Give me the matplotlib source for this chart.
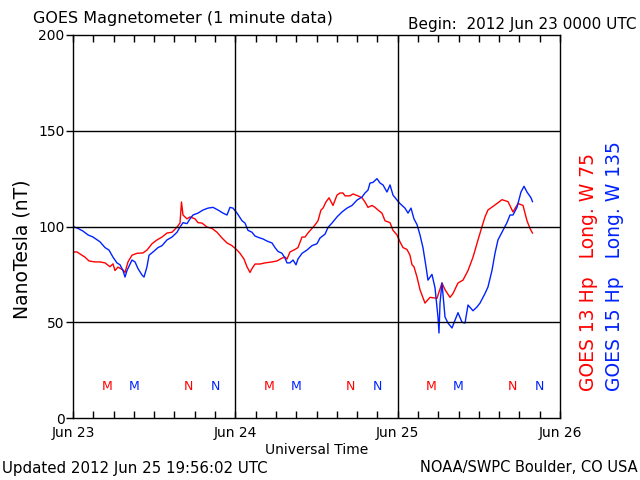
import matplotlib
matplotlib.use("Agg")
import matplotlib.pyplot as plt
from matplotlib.ticker import MultipleLocator

# Hours since 2012 Jun 23 00:00 UTC
g13_hours = [0.00, 0.59, 1.33, 1.77, 2.37, 3.25, 3.99, 4.73, 5.47, 5.91, 6.21, 6.65, 7.39, 7.69,
             8.13, 8.72, 9.46, 10.35, 10.94, 11.68, 12.42, 13.16, 13.90, 14.64, 15.38, 15.82,
             16.04, 16.26, 16.85, 17.30, 18.04, 18.48, 19.07, 19.81, 20.55, 21.29, 22.03, 22.77,
             23.51, 24.25, 24.69, 25.28, 25.72, 26.17, 26.46, 26.91, 27.65, 28.39, 29.42, 30.16,
             30.90, 31.34, 31.64, 32.08, 32.82, 33.26, 33.86, 34.30, 34.74, 35.33, 35.78, 36.22,
             36.66, 36.96, 37.40, 37.85, 38.44, 39.03, 39.47, 39.92, 40.21, 40.95, 41.40, 42.13,
             42.73, 43.17, 43.61, 44.20, 44.65, 45.09, 45.68, 46.13, 46.87, 47.31, 47.90, 48.34,
             48.79, 49.38, 49.82, 50.12, 50.41, 50.86, 51.30, 52.04, 52.78, 53.81, 54.55, 55.00,
             55.74, 56.18, 56.92, 57.66, 58.40, 59.14, 59.88, 60.47, 60.91, 61.35, 62.68, 63.42,
             64.31, 65.05, 65.79, 66.53, 67.12, 67.56, 67.93]
g13_values = [86.7, 86.7, 85.0, 84.0, 82.0, 81.5, 81.5, 81.0, 79.0, 80.5, 77.0, 78.8, 77.3, 76.0,
              81.5, 85.0, 86.0, 86.2, 87.7, 91.0, 93.0, 94.5, 96.6, 97.0, 99.7, 101.8,
              112.8, 106.0, 104.0, 105.0, 104.0, 102.0, 101.8, 99.7, 99.0, 97.0, 94.0, 91.4,
              90.0, 87.7, 86.0, 83.0, 79.0, 76.0, 78.0, 80.4, 80.4, 81.0, 81.5, 82.0,
              83.5, 84.0, 83.0, 86.7, 88.0, 89.0, 94.5, 94.5, 96.6, 99.0, 100.8, 103.0,
              108.6, 109.6, 112.8, 115.0, 111.0, 116.4, 117.5, 117.5, 116.0, 116.0, 117.0, 116.0,
              115.0, 112.8, 110.0, 111.0, 110.0, 108.6, 107.0, 103.0, 102.0, 98.0, 95.6, 92.0,
              89.0, 88.0, 85.0, 80.0, 79.0, 73.6, 67.0, 60.0, 63.0, 62.5, 70.5, 67.0,
              63.0, 65.0, 70.5, 72.0, 77.0, 84.0, 93.0, 100.0, 105.0, 108.6, 112.0, 114.0,
              113.0, 107.6, 112.0, 111.0, 103.0, 99.0, 96.6]

g15_hours = [0.00, 0.74, 1.48, 2.22, 2.96, 3.99, 4.73, 5.32, 5.91, 6.50, 6.95, 7.39, 7.69, 7.98,
             8.72, 9.17, 9.61, 10.20, 10.50, 10.94, 11.24, 11.83, 12.57, 13.16, 13.90, 14.64,
             15.38, 15.82, 16.26, 16.85, 17.30, 17.74, 18.48, 19.22, 19.96, 20.70, 21.44, 22.18,
             22.77, 23.21, 23.65, 24.25, 24.99, 25.43, 25.87, 26.46, 26.91, 27.65, 28.09, 28.68,
             29.42, 29.86, 30.31, 30.90, 31.34, 31.64, 32.08, 32.53, 32.97, 33.26, 33.86, 34.59,
             35.33, 36.07, 36.52, 37.26, 37.70, 38.29, 39.03, 39.77, 40.51, 41.25, 41.99, 42.73,
             43.17, 43.61, 43.91, 44.35, 44.94, 45.39, 45.83, 46.42, 46.87, 47.31, 47.90, 48.34,
             49.08, 49.53, 49.97, 50.41, 50.86, 51.30, 51.74, 52.19, 52.48, 53.07, 53.52, 53.96,
             54.11, 54.26, 54.55, 55.00, 55.44, 56.03, 56.47, 56.92, 57.51, 57.96, 58.40, 59.14,
             59.73, 60.17, 60.91, 61.35, 61.94, 62.39, 62.83, 63.57, 64.16, 64.61, 65.05, 65.64,
             66.23, 66.68, 67.12, 67.71, 67.93]
g15_values = [100.0, 99.0, 97.6, 95.6, 94.5, 92.0, 89.0, 87.7, 84.0, 81.0, 80.0, 77.0, 73.6, 77.0,
              82.5, 81.5, 78.0, 74.7, 73.6, 79.0, 85.0, 86.7, 89.0, 90.0, 93.0, 94.5,
              97.0, 99.7, 102.0, 101.5, 104.0, 106.0, 107.0, 108.6, 109.6, 110.0, 108.6, 107.0,
              106.0, 110.0, 109.6, 107.0, 103.0, 101.8, 98.0, 97.0, 95.0, 94.0, 93.5, 92.4,
              91.4, 89.0, 87.0, 86.0, 83.5, 81.0, 81.0, 82.5, 80.0, 83.0, 86.0, 87.7,
              90.0, 91.0, 94.0, 96.0, 99.5, 101.8, 105.0, 107.6, 109.6, 111.0, 113.8, 115.4,
              117.5, 119.0, 122.7, 123.0, 125.0, 122.7, 121.7, 118.0, 121.7, 116.4, 113.8, 112.0,
              109.6, 107.0, 109.6, 104.0, 101.0, 95.6, 89.0, 79.0, 72.0, 75.0, 68.0, 52.7,
              44.4, 60.0, 70.5, 52.7, 49.6, 47.0, 51.0, 55.0, 50.0, 49.6, 59.0, 56.0,
              58.0, 60.0, 65.0, 68.4, 77.0, 86.0, 93.0, 98.0, 102.0, 106.0, 106.0, 110.0,
              118.0, 121.0, 118.0, 115.0, 113.0]

# Local midnight (M) / noon (N) markers
g13_m_hours = [5, 29, 53]
g13_n_hours = [17, 41, 65]
g15_m_hours = [9, 33, 57]
g15_n_hours = [21, 45, 69]
marker_level = 16.7

day_ticks = [0, 24, 48, 72]
day_labels = ["Jun 23", "Jun 24", "Jun 25", "Jun 26"]
y_ticks = [0, 50, 100, 150, 200]

RED = "#ff0000"
BLUE = "#0022ff"

plt.rcParams["font.family"] = ["DejaVu Sans"]

fig = plt.figure(figsize=(6.4, 4.8), dpi=100)
ax = fig.add_axes([73 / 640, 1 - 418 / 480, (560 - 73) / 640, (418 - 35) / 480])

ax.plot(g13_hours, g13_values, color=RED, lw=1.0)
ax.plot(g15_hours, g15_values, color=BLUE, lw=1.0)

for h in g13_m_hours:
    ax.text(h, marker_level, "M", color=RED, ha="center", va="center", fontsize=9)
for h in g15_m_hours:
    ax.text(h, marker_level, "M", color=BLUE, ha="center", va="center", fontsize=9)
for h in g13_n_hours:
    ax.text(h, marker_level, "N", color=RED, ha="center", va="center", fontsize=9)
for h in g15_n_hours:
    ax.text(h, marker_level, "N", color=BLUE, ha="center", va="center", fontsize=9)

ax.set_xlim(0, 72)
ax.set_ylim(0, 200)

for h in day_ticks[1:-1]:
    ax.axvline(h, color="black", lw=1.0)
for v in y_ticks[1:-1]:
    ax.axhline(v, color="black", lw=1.0)

ax.set_xticks(day_ticks)
ax.set_xticklabels(day_labels, fontsize=10)
ax.xaxis.set_minor_locator(MultipleLocator(3))
ax.tick_params(axis="x", which="both", direction="in", top=True, bottom=True,
               length=5, width=1, pad=6)
ax.set_yticks(y_ticks)
ax.set_yticklabels([str(v) for v in y_ticks], fontsize=10)
ax.tick_params(axis="y", which="both", direction="out", left=True, right=False,
               length=5, width=1, pad=1)
for s in ax.spines.values():
    s.set_linewidth(1.0)

ax.set_xlabel("Universal Time", fontsize=10, labelpad=2)

fig.text(22 / 640, 1 - 249 / 480, "NanoTesla (nT)", fontsize=13.5, rotation=90,
         ha="center", va="center")
fig.text(33 / 640, 1 - 18 / 480, "GOES Magnetometer (1 minute data)", fontsize=11.5,
         ha="left", va="center")
fig.text(637 / 640, 1 - 24 / 480, "Begin:  2012 Jun 23 0000 UTC", fontsize=11,
         ha="right", va="center")
fig.text(2 / 640, 1 - 468 / 480, "Updated 2012 Jun 25 19:56:02 UTC", fontsize=10.8,
         ha="left", va="center")
fig.text(638 / 640, 1 - 468 / 480, "NOAA/SWPC Boulder, CO USA", fontsize=10.5,
         ha="right", va="center")
fig.text(589 / 640, 1 - 391 / 480, "GOES 13 Hp   Long. W 75", fontsize=13.5, color=RED,
         rotation=90, ha="center", va="bottom")
fig.text(615 / 640, 1 - 391 / 480, "GOES 15 Hp   Long. W 135", fontsize=13.5, color=BLUE,
         rotation=90, ha="center", va="bottom")

fig.savefig("out.png", dpi=100)
